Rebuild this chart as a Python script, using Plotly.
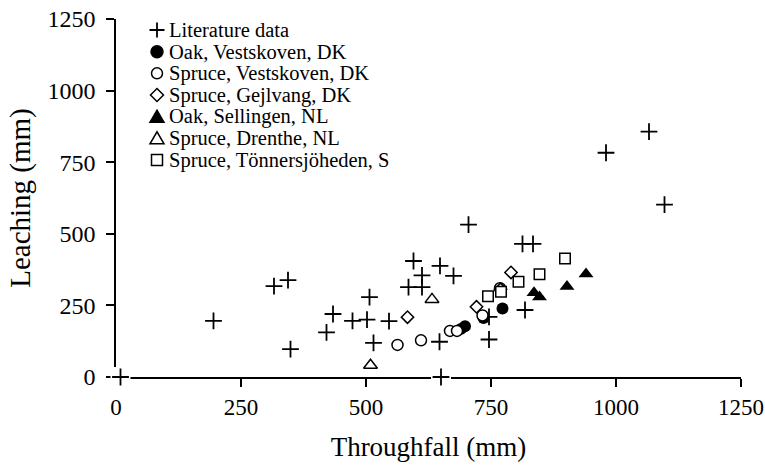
import plotly.graph_objects as go

# ---- data (mm) ----
lit_throughfall = [9, 650, 195, 316, 344, 349, 421, 434, 473, 502, 507, 546, 515,
                   595, 612, 612, 585, 648, 675, 705, 647, 746, 746, 818, 813, 834,
                   980, 1066, 1097]
lit_leaching = [0, 0, 196, 317, 338, 97, 156, 220, 196, 200, 279, 195, 119,
                405, 355, 314, 314, 388, 353, 532, 123, 131, 210, 234, 465, 465,
                783, 857, 602]

oak_vestskoven_tf = [690, 698, 735, 773]
oak_vestskoven_le = [168, 177, 206, 239]

spruce_vestskoven_tf = [563, 610, 668, 682, 733, 768]
spruce_vestskoven_le = [112, 128, 161, 161, 215, 310]

spruce_gejlvang_tf = [583, 721, 769, 790]
spruce_gejlvang_le = [209, 245, 306, 365]

oak_sellingen_tf = [836, 847, 902, 940]
oak_sellingen_le = [294, 279, 316, 360]

spruce_drenthe_tf = [509, 632]
spruce_drenthe_le = [41, 271]

spruce_tonnersjo_tf = [744, 770, 805, 847, 898]
spruce_tonnersjo_le = [282, 298, 333, 359, 414]

series_names = [
    "Literature data",
    "Oak, Vestskoven, DK",
    "Spruce, Vestskoven, DK",
    "Spruce, Gejlvang, DK",
    "Oak, Sellingen, NL",
    "Spruce, Drenthe, NL",
    "Spruce, Tönnersjöheden, S",
]
tick_values = [0, 250, 500, 750, 1000, 1250]

FONT = "Liberation Serif"
W, H = 765, 466
ML, MR, MT, MB = 116, 24, 19, 89
PW, PH = W - ML - MR, H - MT - MB

series = [
    (lit_throughfall, lit_leaching, "cross"),
    (oak_vestskoven_tf, oak_vestskoven_le, "circle_filled"),
    (spruce_vestskoven_tf, spruce_vestskoven_le, "circle_open"),
    (spruce_gejlvang_tf, spruce_gejlvang_le, "diamond_open"),
    (oak_sellingen_tf, oak_sellingen_le, "triangle_filled"),
    (spruce_drenthe_tf, spruce_drenthe_le, "triangle_open"),
    (spruce_tonnersjo_tf, spruce_tonnersjo_le, "square_open"),
]

marker_styles = {
    "cross": dict(symbol="cross-thin", size=12, color="black",
                  line=dict(color="black", width=1.8)),
    "circle_filled": dict(symbol="circle", size=12, color="black",
                          line=dict(color="black", width=0)),
    "circle_open": dict(symbol="circle", size=11, color="white",
                        line=dict(color="black", width=1.5)),
    "diamond_open": dict(symbol="diamond", size=9.5, color="white",
                         line=dict(color="black", width=1.5)),
    "triangle_filled": dict(symbol="triangle-up", size=13, color="black",
                            line=dict(color="black", width=0)),
    "triangle_open": dict(symbol="triangle-up", size=12, color="white",
                          line=dict(color="black", width=1.5)),
    "square_open": dict(symbol="square", size=10.5, color="white",
                        line=dict(color="black", width=1.5)),
}

fig = go.Figure()

# white backing behind the crosses (interrupts the axis lines under them)
fig.add_trace(go.Scatter(
    x=lit_throughfall, y=lit_leaching, mode="markers", showlegend=False,
    hoverinfo="skip", cliponaxis=False,
    marker=dict(symbol="square", size=20, color="white", line=dict(width=0)),
))

for (xs, ys, kind), name in zip(series, series_names):
    fig.add_trace(go.Scatter(
        x=xs, y=ys, mode="markers", name=name, showlegend=False,
        cliponaxis=False, marker=marker_styles[kind],
    ))


# ---- legend drawn as pixel-sized shapes + text ----
def key_shapes(kind, ax, ay):
    base = dict(xref="paper", yref="paper", xsizemode="pixel",
                ysizemode="pixel", xanchor=ax, yanchor=ay, layer="above")
    if kind == "cross":
        return [dict(base, type="path", path="M-7.5,0H7.5M0,-7.5V7.5",
                     line=dict(color="black", width=1.8))]
    if kind in ("circle_filled", "circle_open"):
        r = 6 if kind == "circle_filled" else 5.5
        fill = "black" if kind == "circle_filled" else "white"
        return [dict(base, type="circle", x0=-r, x1=r, y0=-r, y1=r,
                     fillcolor=fill, line=dict(color="black", width=1.5))]
    if kind == "diamond_open":
        return [dict(base, type="path", path="M0,6.5L6.5,0L0,-6.5L-6.5,0Z",
                     fillcolor="white", line=dict(color="black", width=1.5))]
    if kind in ("triangle_filled", "triangle_open"):
        fill = "black" if kind == "triangle_filled" else "white"
        return [dict(base, type="path", path="M-7,-5.5L7,-5.5L0,6.5Z",
                     fillcolor=fill, line=dict(color="black", width=1.5))]
    if kind == "square_open":
        return [dict(base, type="rect", x0=-5.5, x1=5.5, y0=-5.5, y1=5.5,
                     fillcolor="white", line=dict(color="black", width=1.5))]
    return []


shapes = []
annotations = []
row_top_px, row_step_px = 30, 21.67
key_x_px, text_x_px = 157, 167
for i, ((_, _, kind), name) in enumerate(zip(series, series_names)):
    py = row_top_px + i * row_step_px
    yp = (H - MB - py) / PH
    shapes += key_shapes(kind, (key_x_px - ML) / PW, yp)
    annotations.append(dict(
        xref="paper", yref="paper", x=(text_x_px - ML) / PW, y=yp,
        xanchor="left", yanchor="middle", showarrow=False, text=name,
        font=dict(family=FONT, size=20.5, color="black"),
    ))

axis_common = dict(
    range=[0, 1250], tickmode="array", tickvals=tick_values,
    ticktext=[str(v) for v in tick_values],
    showgrid=False, zeroline=False, showline=True, linecolor="black",
    linewidth=1.5, ticks="outside", ticklen=8, tickwidth=1.5,
    tickcolor="black", layer="below traces", fixedrange=True,
    ticklabeloverflow="allow",
)

fig.update_layout(
    width=W, height=H,
    margin=dict(l=ML, r=MR, t=MT, b=MB, autoexpand=False),
    paper_bgcolor="white", plot_bgcolor="white",
    font=dict(family=FONT, color="black"),
    xaxis=dict(axis_common, ticklabelstandoff=1,
               tickfont=dict(family=FONT, size=23, color="black"),
               title=dict(text="Throughfall (mm)", standoff=18,
                          font=dict(family=FONT, size=27))),
    yaxis=dict(axis_common, ticklabelstandoff=6,
               tickfont=dict(family=FONT, size=24, color="black"),
               title=dict(text="Leaching (mm)", standoff=8,
                          font=dict(family=FONT, size=29))),
    shapes=shapes, annotations=annotations, showlegend=False,
)

fig.write_html("out.html")
